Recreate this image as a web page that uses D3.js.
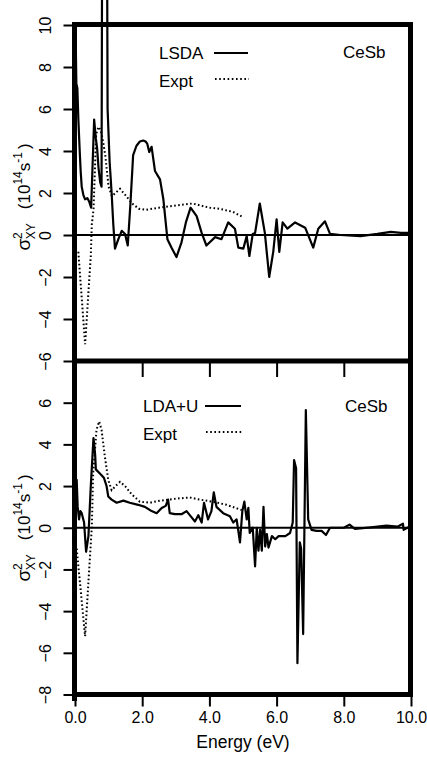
<!DOCTYPE html>
<html>
<head>
<meta charset="utf-8">
<script src="https://cdn.jsdelivr.net/npm/d3@7"></script>
<style>
body { margin: 0; background: #fff; }
text { font-family: "Liberation Sans", Arial, Helvetica, sans-serif; fill: #000; }
</style>
</head>
<body>
<svg id="chart" width="427" height="758"></svg>
<script>
// top panel: LSDA vs experiment
let lsda_energy = [0.02, 0.04, 0.07, 0.1, 0.14, 0.17, 0.2, 0.25, 0.3, 0.37, 0.42, 0.48, 0.57, 0.62, 0.66, 0.7, 0.75, 0.79, 0.81, 0.95, 0.97, 1.03, 1.09, 1.14, 1.19, 1.29, 1.39, 1.49, 1.57, 1.65, 1.73, 1.83, 1.93, 2.03, 2.1, 2.15, 2.21, 2.28, 2.38, 2.53, 2.63, 2.75, 2.87, 3.02, 3.17, 3.3, 3.44, 3.62, 3.77, 3.91, 4.17, 4.36, 4.56, 4.76, 4.86, 5.01, 5.11, 5.19, 5.29, 5.36, 5.5, 5.65, 5.78, 5.9, 6.0, 6.08, 6.18, 6.32, 6.55, 6.85, 7.09, 7.24, 7.44, 7.59, 7.9, 8.5, 9.0, 9.4, 9.7, 9.95]
let lsda_sigma = [9.5, 7.2, 7.0, 5.5, 4.0, 3.0, 2.3, 1.9, 1.7, 1.75, 1.6, 1.3, 5.5, 4.6, 4.1, 3.2, 2.5, 2.3, 16, 16, 6, 3.5, 2.0, 0.5, -0.65, -0.2, 0.2, 0.05, -0.5, 1.5, 3.8, 4.25, 4.45, 4.5, 4.45, 4.35, 3.95, 4.2, 3.05, 2.65, 1.7, -0.2, -0.6, -1.05, -0.35, 0.6, 1.3, 0.9, 0.1, -0.5, -0.1, -0.2, 0.6, 0.3, -0.6, -0.65, -0.05, -1.0, 0.05, 0.1, 1.5, 0.1, -2.0, -0.8, 0.75, -0.8, 0.6, 0.3, 0.6, 0.35, -0.6, 0.3, 0.65, 0.05, 0.0, -0.05, 0.05, 0.15, 0.1, 0.1]
let expt_top_energy = [0.1, 0.3, 0.47, 0.5, 0.55, 0.63, 0.7, 0.76, 0.82, 0.9, 1.0, 1.1, 1.2, 1.34, 1.5, 1.7, 1.9, 2.1, 2.5, 3.0, 3.5, 3.75, 4.0, 4.3, 4.7, 5.0]
let expt_top_sigma = [-0.8, -5.2, -1.0, 0.5, 1.2, 4.8, 5.15, 5.0, 4.6, 3.8, 2.3, 1.85, 2.0, 2.2, 1.9, 1.5, 1.25, 1.2, 1.3, 1.4, 1.5, 1.4, 1.3, 1.25, 1.1, 0.85]

// bottom panel: LDA+U vs experiment
let ldau_energy = [0.02, 0.05, 0.08, 0.12, 0.16, 0.2, 0.27, 0.33, 0.4, 0.47, 0.55, 0.6, 0.62, 0.74, 0.86, 0.94, 0.99, 1.09, 1.24, 1.44, 1.63, 1.88, 2.08, 2.28, 2.43, 2.58, 2.7, 2.77, 2.82, 2.97, 3.17, 3.32, 3.47, 3.57, 3.67, 3.77, 3.84, 3.96, 4.06, 4.13, 4.21, 4.41, 4.61, 4.71, 4.81, 4.91, 4.98, 5.04, 5.11, 5.16, 5.2, 5.29, 5.36, 5.41, 5.46, 5.51, 5.56, 5.61, 5.66, 5.71, 5.76, 5.86, 5.96, 6.06, 6.26, 6.4, 6.48, 6.52, 6.58, 6.62, 6.69, 6.73, 6.79, 6.87, 6.94, 7.04, 7.19, 7.34, 7.47, 7.59, 8.0, 8.17, 8.33, 8.8, 9.27, 9.6, 9.76, 9.78, 9.95]
let ldau_sigma = [2.3, 2.3, 1.0, 0.4, 0.8, 0.7, 0.25, -1.15, -0.4, 2.0, 4.3, 3.5, 2.8, 2.6, 2.4, 2.0, 1.5, 1.35, 1.2, 1.3, 1.2, 1.1, 1.0, 0.8, 0.7, 0.95, 1.05, 1.35, 0.7, 0.65, 0.65, 0.8, 0.5, 0.3, 0.6, 0.25, 1.2, 0.4, 0.8, 1.7, 1.0, 0.7, 0.55, 0.25, 0.4, -0.7, 0.8, 1.25, 0.4, 0.95, -0.25, 0, -1.85, 0, -1.1, -0.1, -1.1, 1.0, -0.9, -0.3, -0.95, -0.4, -0.55, -0.4, -0.4, -0.25, 0.25, 3.25, 2.85, -6.5, -0.7, -1.0, -5.1, 5.65, 0.4, -0.1, -0.15, -0.15, -0.35, 0, 0, 0.15, -0.05, 0.02, 0.1, 0.05, 0.2, -0.1, 0.05]
let expt_bottom_energy = [0.05, 0.3, 0.5, 0.54, 0.64, 0.72, 0.79, 0.89, 0.99, 1.09, 1.24, 1.34, 1.49, 1.69, 1.93, 2.23, 2.53, 3.02, 3.42, 3.72, 4.11, 4.51, 4.96]
let expt_bottom_sigma = [-1.0, -5.2, 0.0, 2.6, 4.7, 5.1, 4.7, 3.4, 2.3, 1.8, 2.05, 2.2, 2.0, 1.6, 1.25, 1.2, 1.3, 1.4, 1.45, 1.35, 1.25, 1.1, 0.85]

let x_tick_values = [0, 2, 4, 6, 8, 10]
let x_tick_labels = ["0.0", "2.0", "4.0", "6.0", "8.0", "10.0"]
let top_y_ticks = [-6, -4, -2, 0, 2, 4, 6, 8, 10]
let bottom_y_ticks = [-8, -6, -4, -2, 0, 2, 4, 6]

let svg = d3.select("#chart")

let x = d3.scaleLinear().domain([0, 10]).range([75, 411])
let y_top = d3.scaleLinear().domain([-6, 10]).range([361, 25])
let y_bottom = d3.scaleLinear().domain([-8, 8]).range([694.5, 361])

function zip(xs, ys) {
    return xs.map(function(v, i) { return [v, ys[i]] })
}

function draw_y_axis(y, ticks) {
    let g = svg.append("g")
        .attr("transform", "translate(74.5,0)")
        .call(d3.axisLeft(y).tickValues(ticks).tickSize(11).tickFormat(d3.format("d")))
    g.select(".domain").remove()
    g.selectAll(".tick line").attr("stroke", "#000").attr("stroke-width", 2)
    g.selectAll(".tick text")
        .attr("x", 0)
        .attr("dy", 0)
        .attr("text-anchor", "middle")
        .attr("transform", "translate(-24,0) rotate(-90)")
        .style("font-size", "16px")
        .style("font-family", "\"Liberation Sans\", Arial, sans-serif")
}

function draw_y_title(cy) {
    let t = svg.append("text")
        .attr("transform", "translate(30," + cy + ") rotate(-90)")
        .attr("text-anchor", "middle")
        .style("font-size", "17px")
    t.append("tspan").style("font-size", "19px").text("σ")
    t.append("tspan").attr("dy", -8).style("font-size", "12px").text("2")
    t.append("tspan").attr("dx", -7).attr("dy", 13).style("font-size", "12px").text("XY")
    t.append("tspan").attr("dx", 14).attr("dy", -5).text("(10")
    t.append("tspan").attr("dy", -8).style("font-size", "12px").text("14")
    t.append("tspan").attr("dy", 8).text("s")
    t.append("tspan").attr("dy", -8).style("font-size", "12px").text("-1")
    t.append("tspan").attr("dx", 3).attr("dy", 8).text(")")
}

function draw_panel(y, solid_data, dotted_data) {
    // zero line
    svg.append("line")
        .attr("x1", x(0)).attr("x2", x(10))
        .attr("y1", y(0)).attr("y2", y(0))
        .attr("stroke", "#000").attr("stroke-width", 1.8)
    let line = d3.line().x(d => x(d[0])).y(d => y(d[1]))
    svg.append("path")
        .datum(dotted_data)
        .attr("d", line)
        .attr("fill", "none")
        .attr("stroke", "#000")
        .attr("stroke-width", 2)
        .attr("stroke-dasharray", "1.6,2.4")
    svg.append("path")
        .datum(solid_data)
        .attr("d", line)
        .attr("fill", "none")
        .attr("stroke", "#000")
        .attr("stroke-width", 2.2)
        .attr("stroke-linejoin", "round")
}

function draw_legend(label, label_x, base_y, line_x1, line_x2) {
    svg.append("text").attr("x", label_x).attr("y", base_y).style("font-size", "17px").text(label)
    svg.append("line")
        .attr("x1", line_x1).attr("x2", line_x2)
        .attr("y1", base_y - 6).attr("y2", base_y - 6)
        .attr("stroke", "#000").attr("stroke-width", 2.2)
    svg.append("text").attr("x", label_x).attr("y", base_y + 28).style("font-size", "17px").text("Expt")
    svg.append("line")
        .attr("x1", line_x1 + 1).attr("x2", line_x2 + 1)
        .attr("y1", base_y + 20).attr("y2", base_y + 20)
        .attr("stroke", "#000").attr("stroke-width", 2)
        .attr("stroke-dasharray", "1.6,2.6")
}

draw_panel(y_top, zip(lsda_energy, lsda_sigma), zip(expt_top_energy, expt_top_sigma))
draw_panel(y_bottom, zip(ldau_energy, ldau_sigma), zip(expt_bottom_energy, expt_bottom_sigma))

// frame
let frame = [
    [74.5, 22, 74.5, 701],
    [72, 24.5, 413, 24.5],
    [410.5, 22, 410.5, 697],
    [72, 361, 413, 361],
    [72, 694.5, 413, 694.5]
]
frame.forEach(function(f) {
    svg.append("line")
        .attr("x1", f[0]).attr("y1", f[1]).attr("x2", f[2]).attr("y2", f[3])
        .attr("stroke", "#000").attr("stroke-width", 5)
})

draw_y_axis(y_top, top_y_ticks)
draw_y_axis(y_bottom, bottom_y_ticks)

// x ticks under the top panel (no labels)
let top_x = svg.append("g")
    .attr("transform", "translate(0,361)")
    .call(d3.axisBottom(x).tickValues(x_tick_values).tickSize(16).tickFormat(""))
top_x.select(".domain").remove()
top_x.selectAll(".tick line").attr("stroke", "#000").attr("stroke-width", 2)

let bottom_x = svg.append("g")
    .attr("transform", "translate(0,694.5)")
    .call(d3.axisBottom(x).tickValues(x_tick_values).tickSize(12).tickPadding(5)
        .tickFormat((d, i) => x_tick_labels[i]))
bottom_x.select(".domain").remove()
bottom_x.selectAll(".tick line").attr("stroke", "#000").attr("stroke-width", 2)
bottom_x.selectAll(".tick text")
    .style("font-size", "16px")
    .style("font-family", "\"Liberation Sans\", Arial, sans-serif")

svg.append("text")
    .attr("x", 243).attr("y", 748)
    .attr("text-anchor", "middle")
    .style("font-size", "17.5px")
    .text("Energy (eV)")

draw_y_title(197)
draw_y_title(528)

draw_legend("LSDA", 159, 59, 214, 248)
draw_legend("LDA+U", 143, 412, 205, 241)

svg.append("text").attr("x", 343).attr("y", 58).style("font-size", "17px").text("CeSb")
svg.append("text").attr("x", 345).attr("y", 412).style("font-size", "17px").text("CeSb")
</script>
</body>
</html>
